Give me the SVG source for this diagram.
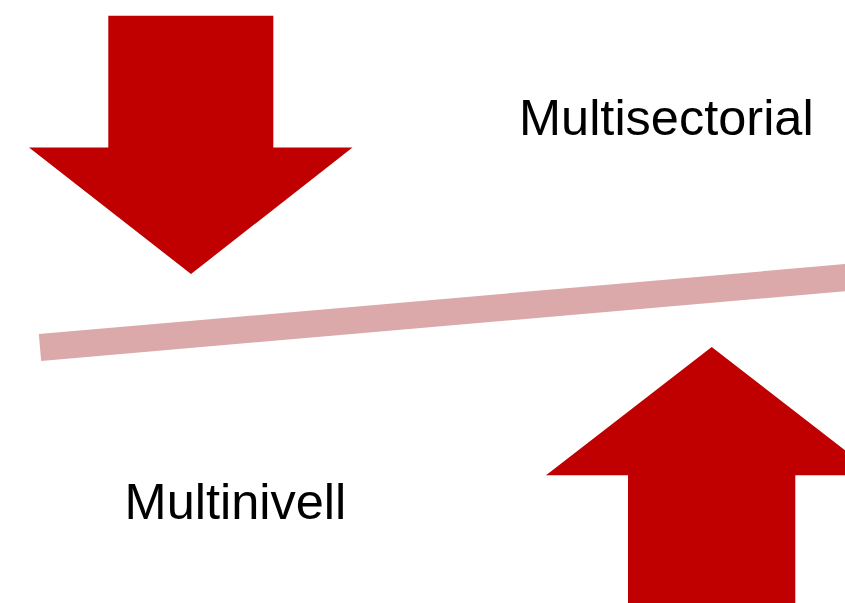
<svg xmlns="http://www.w3.org/2000/svg" width="845" height="603" viewBox="0 0 845 603">
<style>
.arrow{fill:#C00000;}
.lbl{font-family:"Liberation Sans",Arial,sans-serif;font-size:50.5px;fill:#000;}
</style>
<rect width="845" height="603" fill="#FFFFFF"/>
<g id="connectors">
<line x1="40" y1="347.5" x2="870" y2="275.5" stroke="#DBA9AA" stroke-width="27" stroke-linecap="butt"/>
</g>
<g id="arrow-down">
<polygon class="arrow" points="108.3,15.7 273.3,15.7 273.3,147.5 352.5,147.5 191,274 29,147.5 108.3,147.5"/>
</g>
<g id="arrow-up">
<polygon class="arrow" points="711.7,347 877.4,475.3 795.3,475.3 795.3,603 628,603 628,475.3 546,475.3"/>
</g>
<g id="label-multisectorial">
<text class="lbl" x="519" y="135">Multisectorial</text>
</g>
<g id="label-multinivell">
<text class="lbl" x="124.6" y="519.3">Multinivell</text>
</g>
</svg>
